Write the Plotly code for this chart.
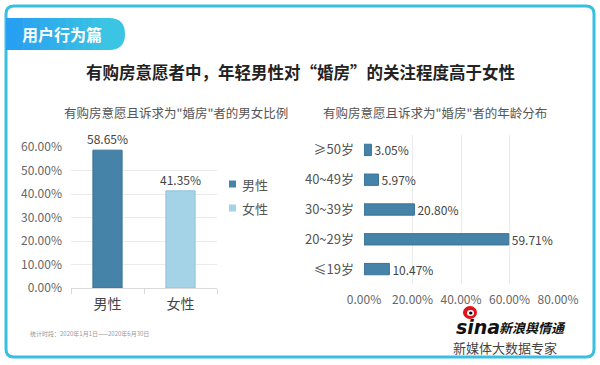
import plotly.graph_objects as go

# ---- data ----
gender_labels = ["男性", "女性"]
gender_values = [58.65, 41.35]
gender_colors = ["#4683a8", "#a4d2e6"]
gender_line = ["#3a7396", "#8fc3da"]

age_labels = ["≤19岁", "20~29岁", "30~39岁", "40~49岁", "≥50岁"]
age_values = [10.47, 59.71, 20.80, 5.97, 3.05]

left_ticks = [0, 10, 20, 30, 40, 50, 60]
right_ticks = [0, 20, 40, 60, 80]

W, H = 600, 365
def px(x): return x / W
def py(y): return 1 - y / H

FONT = "Noto Sans CJK SC"

fig = go.Figure()

for lab, val, col, lc in zip(gender_labels, gender_values, gender_colors, gender_line):
    fig.add_trace(go.Bar(
        x=[lab], y=[val], name=lab, width=0.4,
        marker=dict(color=col, line=dict(color=lc, width=1)),
        text=[f"{val:.2f}%"], textposition="outside", constraintext="none",
        textfont=dict(size=12, color="#444444", family=FONT),
        cliponaxis=False, xaxis="x", yaxis="y", showlegend=False,
    ))

fig.add_trace(go.Bar(
    y=age_labels, x=age_values, orientation="h", width=0.38,
    marker=dict(color="#4683a8", line=dict(color="#3a7396", width=1)),
    text=[f"{v:.2f}%" for v in age_values], textposition="outside", constraintext="none",
    textfont=dict(size=12, color="#444444", family=FONT),
    cliponaxis=False, xaxis="x2", yaxis="y2", showlegend=False,
))

fig.update_layout(
    width=W, height=H,
    margin=dict(l=0, r=0, t=0, b=0, autoexpand=False),
    paper_bgcolor="white", plot_bgcolor="white",
    barmode="overlay", showlegend=False,
    font=dict(family=FONT, color="#555555"),
    xaxis=dict(
        domain=[px(71), px(217)], anchor="y",
        type="category", categoryorder="array", categoryarray=gender_labels,
        showline=True, linecolor="#d9d9d9", linewidth=1,
        ticks="outside", tickson="boundaries", ticklen=5, tickcolor="#d9d9d9",
        tickfont=dict(size=14, color="#444444"), showgrid=False, automargin=False,
        ticklabelstandoff=3,
    ),
    yaxis=dict(
        domain=[py(288), py(147)], anchor="x",
        range=[0, 60], tickvals=left_ticks,
        ticktext=[f"{v:.2f}%" for v in left_ticks],
        tickfont=dict(size=12, color="#666666"),
        showgrid=True, gridcolor="#ebebeb", gridwidth=1,
        zeroline=False, showline=False, ticks="", ticklabelstandoff=8, automargin=False,
    ),
    xaxis2=dict(
        domain=[px(364), px(558)], anchor="y2",
        range=[0, 80], tickvals=right_ticks,
        ticktext=[f"{v:.2f}%" for v in right_ticks],
        tickfont=dict(size=12, color="#666666"),
        showgrid=True, gridcolor="#ebebeb", gridwidth=1,
        zeroline=False, showline=False, ticks="", ticklabelstandoff=7, automargin=False,
    ),
    yaxis2=dict(
        domain=[py(284), py(135)], anchor="x2",
        type="category", categoryorder="array", categoryarray=age_labels,
        tickfont=dict(size=13, color="#555555"),
        showgrid=False, zeroline=False, showline=False, ticks="",
        ticklabelstandoff=9, automargin=False,
    ),
)

shapes = []
r = 8
path = (f"M {6+r},{6} L {594-r},{6} Q 594,6 594,{6+r} L 594,{357-r} Q 594,357 {594-r},357 "
        f"L {6+r},357 Q 6,357 6,{357-r} L 6,{6+r} Q 6,6 {6+r},6 Z")
def conv(p):
    out = []
    for tok in p.split(" "):
        if "," in tok:
            a, b = tok.split(",")
            out.append(f"{px(float(a)):.5f},{py(float(b)):.5f}")
        else:
            out.append(tok)
    return " ".join(out)
shapes.append(dict(type="path", xref="paper", yref="paper", path=conv(path),
                   line=dict(color="#38c0e4", width=3), fillcolor="rgba(0,0,0,0)", layer="below"))

# tab with gradient approximation (strips)
tab_l, tab_r, tab_t, tab_b = 6, 125, 18, 50
rr = 16
n = 12
c0 = (0x27, 0x9f, 0xf2)
c1 = (0x3b, 0xc4, 0xe3)
for i in range(n):
    xa = tab_l + (tab_r - rr - tab_l) * i / n
    xb = tab_l + (tab_r - rr - tab_l) * (i + 1) / n + 0.6
    t = i / (n - 1)
    col = "rgb(%d,%d,%d)" % tuple(int(c0[k] + (c1[k] - c0[k]) * t) for k in range(3))
    shapes.append(dict(type="rect", xref="paper", yref="paper",
                       x0=px(xa), x1=px(xb), y0=py(tab_b), y1=py(tab_t),
                       fillcolor=col, line=dict(width=0)))
endp = (f"M {tab_r-rr-0.5},{tab_t} L {tab_r-rr},{tab_t} Q {tab_r},{tab_t} {tab_r},{(tab_t+tab_b)/2} "
        f"Q {tab_r},{tab_b} {tab_r-rr},{tab_b} L {tab_r-rr-0.5},{tab_b} Z")
shapes.append(dict(type="path", xref="paper", yref="paper", path=conv(endp),
                   fillcolor="rgb(%d,%d,%d)" % c1, line=dict(width=0)))

# legend (manual)
leg_y = [184, 208]
for lab, col, yy in zip(gender_labels, gender_colors, leg_y):
    shapes.append(dict(type="rect", xref="paper", yref="paper",
                       x0=px(229), x1=px(236), y0=py(yy + 3.5), y1=py(yy - 3.5),
                       fillcolor=col, line=dict(width=0)))

# sina red logo (approximation)
shapes.append(dict(type="circle", xref="paper", yref="paper",
                   x0=px(463), x1=px(477), y0=py(319), y1=py(306),
                   fillcolor="#e0141e", line=dict(width=0)))
shapes.append(dict(type="circle", xref="paper", yref="paper",
                   x0=px(467), x1=px(474), y0=py(316), y1=py(310),
                   fillcolor="white", line=dict(width=0)))
shapes.append(dict(type="circle", xref="paper", yref="paper",
                   x0=px(469), x1=px(472.5), y0=py(314.5), y1=py(311.5),
                   fillcolor="#111111", line=dict(width=0)))

fig.update_layout(shapes=shapes)

ann = [
    dict(x=px(62), y=py(34), text="<b>用户行为篇</b>", font=dict(size=16, color="white")),
    dict(x=px(300), y=py(72), text="<b>有购房意愿者中，年轻男性对“婚房”的关注程度高于女性</b>",
         font=dict(size=16.5, color="#222222")),
    dict(x=px(176), y=py(113), text="有购房意愿且诉求为\"婚房\"者的男女比例",
         font=dict(size=12.5, color="#555555")),
    dict(x=px(435), y=py(113), text="有购房意愿且诉求为\"婚房\"者的年龄分布",
         font=dict(size=12.5, color="#555555")),
    dict(x=px(28), y=py(333), xanchor="left", text="统计时段：2020年1月1日——2020年6月30日",
         font=dict(size=6, color="#999999")),
    dict(x=px(454), y=py(327), xanchor="left",
         text="<b><i>sina</i></b>", font=dict(size=19, color="#111111", family="DejaVu Sans")),
    dict(x=px(497), y=py(327), xanchor="left",
         text="<b><i>新浪舆情通</i></b>", font=dict(size=13, color="#111111")),
    dict(x=px(505), y=py(347), text="新媒体大数据专家", font=dict(size=13, color="#444444")),
]
for lab, yy in zip(gender_labels, leg_y):
    ann.append(dict(x=px(240), y=py(yy), xanchor="left", text=lab,
                    font=dict(size=13, color="#555555")))
for a in ann:
    a.setdefault("xref", "paper"); a.setdefault("yref", "paper")
    a.setdefault("showarrow", False)
    a.setdefault("xanchor", "center"); a.setdefault("yanchor", "middle")
fig.update_layout(annotations=ann)

fig.write_html("out.html", config={"displayModeBar": False},
               post_script="document.body.style.margin='0';document.body.style.overflow='hidden';")
